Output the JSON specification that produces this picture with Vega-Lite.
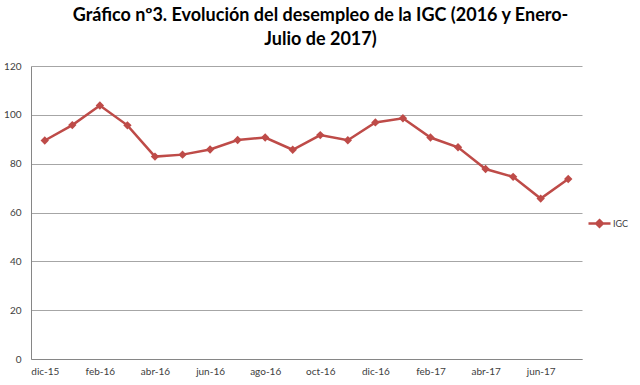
{
  "$schema": "https://vega.github.io/schema/vega-lite/v6.json",
  "width": 551,
  "height": 293,
  "autosize": "none",
  "padding": {"left": 31, "top": 66, "right": 58, "bottom": 26},
  "background": "white",
  "title": {
    "text": ["Gráfico n\u00ba3. Evolución del desempleo de la IGC (2016 y Enero-", "Julio de 2017)"],
    "font": "Lato",
    "fontSize": 18,
    "fontWeight": "bold",
    "color": "#000000",
    "anchor": "middle",
    "dx": 14,
    "offset": 12,
    "lineHeight": 24
  },
  "data": {
    "values": [
      {"mes": "dic-15", "IGC": 89.5},
      {"mes": "ene-16", "IGC": 95.8},
      {"mes": "feb-16", "IGC": 103.8},
      {"mes": "mar-16", "IGC": 95.7},
      {"mes": "abr-16", "IGC": 82.9},
      {"mes": "may-16", "IGC": 83.7},
      {"mes": "jun-16", "IGC": 85.8},
      {"mes": "jul-16", "IGC": 89.7},
      {"mes": "ago-16", "IGC": 90.7},
      {"mes": "sep-16", "IGC": 85.7},
      {"mes": "oct-16", "IGC": 91.7},
      {"mes": "nov-16", "IGC": 89.6},
      {"mes": "dic-16", "IGC": 96.9},
      {"mes": "ene-17", "IGC": 98.6},
      {"mes": "feb-17", "IGC": 90.7},
      {"mes": "mar-17", "IGC": 86.7},
      {"mes": "abr-17", "IGC": 77.8},
      {"mes": "may-17", "IGC": 74.6},
      {"mes": "jun-17", "IGC": 65.7},
      {"mes": "jul-17", "IGC": 73.7}
    ]
  },
  "mark": {
    "type": "line",
    "strokeWidth": 2.5,
    "point": {"shape": "diamond", "size": 70, "filled": true}
  },
  "encoding": {
    "x": {
      "field": "mes",
      "type": "ordinal",
      "sort": null,
      "title": null,
      "scale": {"type": "point", "padding": 0.5},
      "axis": {
        "values": ["dic-15", "feb-16", "abr-16", "jun-16", "ago-16", "oct-16", "dic-16", "feb-17", "abr-17", "jun-17"],
        "labelAngle": 0,
        "labelFont": "Lato",
        "labelFontSize": 10,
        "labelColor": "#404040",
        "labelPadding": 7,
        "ticks": false,
        "grid": false,
        "domainColor": "#868686",
        "domainWidth": 1
      }
    },
    "y": {
      "field": "IGC",
      "type": "quantitative",
      "title": null,
      "scale": {"domain": [0, 120], "nice": false},
      "axis": {
        "values": [0, 20, 40, 60, 80, 100, 120],
        "labelFont": "Lato",
        "labelFontSize": 10,
        "labelColor": "#404040",
        "labelPadding": 10,
        "ticks": false,
        "grid": true,
        "gridColor": "#A6A6A6",
        "gridWidth": 1,
        "domainColor": "#868686",
        "domainWidth": 1
      }
    },
    "color": {
      "datum": "IGC",
      "type": "nominal",
      "scale": {"range": ["#BE4B48"]},
      "legend": {
        "orient": "none",
        "legendX": 556,
        "legendY": 145,
        "title": null,
        "padding": 0,
        "symbolType": "M-1,0L1,0M0,-0.3L0.3,0L0,0.3L-0.3,0Z",
        "symbolSize": 484,
        "symbolStrokeWidth": 2.5,
        "symbolFillColor": "#BE4B48",
        "symbolStrokeColor": "#BE4B48",
        "labelFont": "Lato",
        "labelFontSize": 9,
        "labelColor": "#404040",
        "labelOffset": 1
      }
    }
  },
  "config": {"view": {"stroke": null}}
}
